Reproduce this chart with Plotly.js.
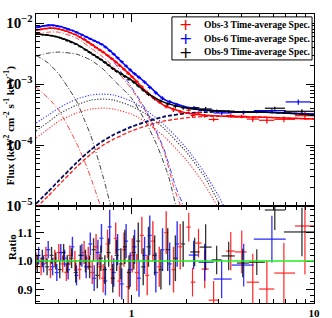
<!DOCTYPE html>
<html><head><meta charset="utf-8">
<script src="https://cdn.plot.ly/plotly-3.0.1.min.js"></script>
<style>html,body{margin:0;padding:0;background:#fff}#chart{width:332px;height:318px}</style>
</head><body><div id="chart"></div>
<script>
// ---------- Obs-3 (red) data ----------
const e3 = [0.30,0.32,0.34,0.36,0.38,0.40,0.42,0.44,0.46,0.49,0.52,0.55,0.58,0.61,0.64,0.67,0.70,0.74,0.78,0.82,0.86,0.91,0.96,1.01,1.07,1.14,1.22,1.31,1.42,1.55,1.70,1.85];
const flux3 = [7.67e-3,7.91e-3,8.15e-3,8.28e-3,8.22e-3,7.98e-3,7.74e-3,7.39e-3,7.01e-3,6.53e-3,5.96e-3,5.38e-3,4.86e-3,4.40e-3,3.98e-3,3.62e-3,3.35e-3,2.95e-3,2.62e-3,2.31e-3,2.03e-3,1.75e-3,1.51e-3,1.31e-3,1.10e-3,9.0e-4,7.26e-4,6.12e-4,5.11e-4,4.26e-4,3.80e-4,3.50e-4];
const ratio3 = [1.00,0.98,1.02,0.97,1.01,1.03,0.99,0.96,1.02,1.00,0.97,1.03,1.01,0.96,1.05,0.98,0.94,1.06,0.97,1.08,0.93,1.04,0.91,1.02,0.96,1.09,0.95,1.07,0.98,1.10,0.97,1.05];
const rerr3 = [0.03,0.03,0.03,0.03,0.03,0.03,0.03,0.03,0.035,0.035,0.035,0.04,0.04,0.04,0.045,0.045,0.05,0.05,0.05,0.055,0.055,0.06,0.06,0.06,0.065,0.065,0.07,0.07,0.07,0.075,0.08,0.08];
const e3s = [2.06,2.16,2.33,2.52,2.82,3.5,4.02,4.62,5.52,6.84,8.92];
const e3sLo = [2.00,2.11,2.24,2.42,2.65,3.30,3.68,4.28,5.00,6.06,7.87];
const e3sHi = [2.11,2.24,2.42,2.65,3.00,3.68,4.28,5.00,6.06,7.87,10.0];
const flux3s = [3.73e-4,3.06e-4,3.40e-4,3.01e-4,2.63e-4,3.04e-4,2.97e-4,2.67e-4,2.55e-4,2.65e-4,3.03e-4];
const ratio3s = [1.119,0.926,1.063,0.972,0.863,1.035,1.032,0.926,0.902,0.958,1.123];
const rerr3s = [0.05,0.05,0.05,0.067,0.067,0.067,0.075,0.1,0.1,0.105,0.17];

// ---------- Obs-6 (blue) data ----------
const e6 = [0.31,0.33,0.35,0.37,0.39,0.41,0.43,0.45,0.475,0.50,0.535,0.565,0.595,0.625,0.655,0.685,0.72,0.76,0.80,0.84,0.885,0.935,0.985,1.04,1.10,1.18,1.26,1.36,1.48,1.62,1.78];
const flux6 = [8.73e-3,9.0e-3,9.27e-3,9.2e-3,9.0e-3,8.8e-3,8.41e-3,8.03e-3,7.59e-3,7.11e-3,6.45e-3,5.96e-3,5.53e-3,5.16e-3,4.83e-3,4.51e-3,4.06e-3,3.54e-3,3.10e-3,2.70e-3,2.33e-3,1.98e-3,1.71e-3,1.48e-3,1.29e-3,1.08e-3,8.83e-4,7.20e-4,5.87e-4,5.11e-4,4.54e-4];
const ratio6 = [1.02,0.99,1.04,0.98,0.96,1.03,1.01,0.97,1.05,0.95,1.02,0.98,1.06,0.94,1.03,1.08,0.93,1.12,0.96,1.04,0.92,1.07,0.97,1.05,0.94,1.02,1.09,0.96,1.04,0.99,1.06];
const rerr6 = [0.03,0.03,0.03,0.03,0.03,0.03,0.03,0.035,0.035,0.035,0.04,0.04,0.04,0.045,0.045,0.05,0.05,0.06,0.05,0.055,0.055,0.06,0.06,0.06,0.065,0.065,0.07,0.07,0.075,0.075,0.08];
const e6s = [2.19,2.52,3.12,4.12,5.88,8.2];
const e6sLo = [2.06,2.33,2.82,3.54,4.68,7.0];
const e6sHi = [2.33,2.82,3.54,4.68,7.0,9.6];
const flux6s = [4.09e-4,3.73e-4,3.36e-4,3.43e-4,3.67e-4,5.1e-4];
const ratio6s = [1.021,0.996,0.937,0.986,1.077,1.5];
const rerr6s = [0.05,0.065,0.067,0.075,0.082,0.15];

// ---------- Obs-9 (black) data ----------
const e9 = [0.305,0.325,0.345,0.365,0.385,0.405,0.425,0.445,0.47,0.495,0.525,0.56,0.59,0.62,0.65,0.68,0.715,0.75,0.79,0.83,0.875,0.92,0.97,1.03,1.09,1.16,1.24,1.34,1.45,1.58,1.74,1.92];
const flux9 = [6.58e-3,6.48e-3,6.38e-3,6.26e-3,6.03e-3,5.78e-3,5.47e-3,5.16e-3,4.83e-3,4.53e-3,4.13e-3,3.66e-3,3.32e-3,3.02e-3,2.77e-3,2.53e-3,2.28e-3,2.04e-3,1.80e-3,1.62e-3,1.47e-3,1.34e-3,1.21e-3,1.08e-3,9.38e-4,8.04e-4,6.81e-4,5.77e-4,5.19e-4,4.72e-4,4.34e-4,4.10e-4];
const ratio9 = [0.99,1.01,0.98,1.02,1.00,0.97,1.03,0.99,1.01,0.96,1.02,1.00,0.98,1.04,0.95,1.01,0.97,1.03,0.94,1.02,0.99,1.05,0.96,1.03,1.07,0.98,1.05,1.02,0.97,1.04,1.01,1.06];
const rerr9 = [0.03,0.03,0.03,0.03,0.03,0.03,0.03,0.03,0.035,0.035,0.035,0.04,0.04,0.04,0.045,0.045,0.05,0.05,0.05,0.055,0.055,0.06,0.06,0.06,0.065,0.065,0.07,0.07,0.07,0.075,0.08,0.08];
const e9s = [2.22,2.55,2.93,3.41,4.07,4.86,6.1,8.59];
const e9sLo = [2.10,2.36,2.75,3.12,3.78,4.40,5.38,6.84];
const e9sHi = [2.36,2.75,3.12,3.68,4.40,5.38,6.93,10.0];
const flux9s = [4.08e-4,3.91e-4,3.65e-4,3.60e-4,3.46e-4,3.47e-4,4.02e-4,3.58e-4];
const ratio9s = [1.032,1.049,1.004,1.018,0.993,0.996,1.179,1.102];
const rerr9s = [0.05,0.08,0.05,0.05,0.05,0.045,0.07,0.085];

// ---------- Model curves ----------
const eGrid = [0.3,0.35,0.4,0.5,0.6,0.7,0.8,1.0,1.2,1.5,2,2.5,3,4,5,7,10];
const tot3 = [7.67e-3,8.28e-3,7.98e-3,6.35e-3,4.53e-3,3.35e-3,2.47e-3,1.35e-3,7.67e-4,4.53e-4,3.35e-4,3.10e-4,2.99e-4,2.88e-4,2.88e-4,2.77e-4,2.67e-4];
const tot6 = [8.59e-3,9.27e-3,8.93e-3,7.11e-3,5.47e-3,4.35e-3,3.10e-3,1.63e-3,1.04e-3,5.68e-4,4.20e-4,3.75e-4,3.61e-4,3.48e-4,3.48e-4,3.35e-4,3.22e-4];
const tot9 = [6.61e-3,6.35e-3,5.89e-3,4.53e-3,3.22e-3,2.38e-3,1.76e-3,1.16e-3,7.40e-4,5.07e-4,4.05e-4,3.75e-4,3.61e-4,3.48e-4,3.48e-4,3.35e-4,3.10e-4];
const pl3 = [9.3e-6,1.46e-5,2.21e-5,4.35e-5,7.11e-5,1.0e-4,1.25e-4,1.70e-4,2.05e-4,2.47e-4,2.80e-4,2.95e-4,2.97e-4,2.88e-4,2.88e-4,2.77e-4,2.67e-4];
const pl6 = [1.1e-5,1.75e-5,2.65e-5,5.2e-5,8.5e-5,1.19e-4,1.5e-4,2.02e-4,2.44e-4,2.95e-4,3.36e-4,3.48e-4,3.54e-4,3.50e-4,3.47e-4,3.36e-4,3.22e-4];
const pl9 = [1.08e-5,1.70e-5,2.57e-5,5.07e-5,8.28e-5,1.16e-4,1.46e-4,1.97e-4,2.38e-4,2.88e-4,3.30e-4,3.44e-4,3.50e-4,3.48e-4,3.46e-4,3.34e-4,3.10e-4];

const eHot3 = [0.3,0.35,0.4,0.5,0.6,0.7,0.8,1.0,1.2,1.5,1.7,1.86];
const hot3 = [6.6e-3,7.1e-3,7.1e-3,5.68e-3,3.89e-3,2.77e-3,1.90e-3,8.28e-4,3.48e-4,8.28e-5,2.13e-5,1.0e-5];
const eHot6 = [0.3,0.35,0.4,0.5,0.6,0.7,0.8,1.0,1.2,1.5,1.75,1.93];
const hot6 = [8.28e-3,8.93e-3,8.59e-3,6.86e-3,4.70e-3,3.35e-3,2.30e-3,8.93e-4,3.75e-4,8.93e-5,2.05e-5,1.0e-5];
const eHot9 = [0.3,0.35,0.4,0.5,0.6,0.7,0.8,1.0,1.2,1.4,1.6,1.75];
const hot9 = [2.88e-3,3.22e-3,3.35e-3,3.10e-3,2.47e-3,1.76e-3,1.16e-3,5.89e-4,2.38e-4,8.93e-5,3.0e-5,1.0e-5];
const eCool3 = [0.3,0.35,0.4,0.5,0.55,0.6,0.676];
const cool3 = [8.93e-4,5.89e-4,3.75e-4,1.08e-4,5.67e-5,2.88e-5,1.0e-5];
const eCool9 = [0.3,0.35,0.4,0.5,0.55,0.6,0.7,0.77];
const cool9 = [2.98e-3,2.21e-3,1.46e-3,5.26e-4,2.67e-4,1.41e-4,2.99e-5,1.0e-5];

const eDisk3 = [0.3,0.35,0.4,0.5,0.6,0.7,0.8,1.0,1.2,1.5,2.0,2.5,2.95];
const disk3 = [1.30e-4,1.83e-4,2.47e-4,3.35e-4,3.89e-4,4.05e-4,3.89e-4,3.22e-4,2.38e-4,1.41e-4,5.67e-5,2.30e-5,1.0e-5];
const eDisk6 = [0.3,0.35,0.4,0.5,0.6,0.7,0.8,1.0,1.2,1.5,2.0,2.5,3.0,3.2];
const disk6 = [2.30e-4,3.10e-4,4.05e-4,5.68e-4,6.61e-4,6.86e-4,6.61e-4,5.26e-4,3.75e-4,2.21e-4,8.93e-5,3.61e-5,1.46e-5,1.0e-5];
const eDisk9 = [0.3,0.35,0.4,0.5,0.6,0.7,0.8,1.0,1.2,1.5,2.0,2.5,3.0,3.08];
const disk9 = [1.70e-4,2.38e-4,3.22e-4,4.53e-4,5.47e-4,5.68e-4,5.47e-4,4.35e-4,3.22e-4,1.90e-4,7.67e-5,3.10e-5,1.16e-5,1.0e-5];

const legendLabels = ['Obs-3 Time-average Spec.','Obs-6 Time-average Spec.','Obs-9 Time-average Spec.'];
const RED='#ff0000', BLUE='#0000ff', BLACK='#000000';
const SERIF='"Liberation Serif", "Times New Roman", serif';

const traces = [];
function line(x, y, color, dash, width, op) {
  traces.push({x:x, y:y, xaxis:'x2', yaxis:'y2', mode:'lines', type:'scatter', opacity:op||1,
    line:{color:color, dash:dash, width:width, shape:'spline', smoothing:0.6}, hoverinfo:'skip'});
}
// components
[[eCool3,cool3,RED],[eCool9,cool9,BLACK],[eHot3,hot3,RED],[eHot6,hot6,BLUE],[eHot9,hot9,BLACK]].forEach(c=>line(c[0],c[1],c[2],'5px,2px,1px,2px',1,0.75));
[[eDisk3,disk3,RED],[eDisk6,disk6,BLUE],[eDisk9,disk9,BLACK]].forEach(c=>line(c[0],c[1],c[2],'1.2px,1.6px',1.1,0.8));
[[pl3,RED],[pl6,BLUE],[pl9,BLACK]].forEach(c=>line(eGrid,c[0],c[1],'4px,2px',1.3,0.9));

function dataTraces(e, flux, ratio, rerr, es, esLo, esHi, fluxs, ratios, rerrs, color) {
  const fe = flux.map((f,i)=>f*rerr[i]/ratio[i]);
  const fes = fluxs.map((f,i)=>f*rerrs[i]/ratios[i]);
  const xp = es.map((v,i)=>esHi[i]-v), xm = es.map((v,i)=>v-esLo[i]);
  const common = {type:'scatter', mode:'markers', marker:{size:1, color:color}, hoverinfo:'skip'};
  traces.push(Object.assign({}, common, {x:e, y:flux, xaxis:'x2', yaxis:'y2',
    error_y:{type:'data', array:fe, color:color, thickness:1.2, width:0},
    error_x:{type:'percent', value:2.5, color:color, thickness:1.2, width:0}}));
  traces.push(Object.assign({}, common, {x:es, y:fluxs, xaxis:'x2', yaxis:'y2',
    error_y:{type:'data', array:fes, color:color, thickness:1.2, width:0},
    error_x:{type:'data', array:xp, arrayminus:xm, symmetric:false, color:color, thickness:1.2, width:0}}));
  traces.push(Object.assign({}, common, {x:e, y:ratio, xaxis:'x', yaxis:'y', opacity:0.8,
    error_y:{type:'data', array:rerr, color:color, thickness:1.4, width:0},
    error_x:{type:'percent', value:2.5, color:color, thickness:1.2, width:0}}));
  traces.push(Object.assign({}, common, {x:es, y:ratios, xaxis:'x', yaxis:'y', opacity:0.85,
    error_y:{type:'data', array:rerrs, color:color, thickness:1.2, width:0},
    error_x:{type:'data', array:xp, arrayminus:xm, symmetric:false, color:color, thickness:1.2, width:0}}));
}
dataTraces(e3, flux3, ratio3, rerr3, e3s, e3sLo, e3sHi, flux3s, ratio3s, rerr3s, RED);
dataTraces(e6, flux6, ratio6, rerr6, e6s, e6sLo, e6sHi, flux6s, ratio6s, rerr6s, BLUE);
dataTraces(e9, flux9, ratio9, rerr9, e9s, e9sLo, e9sHi, flux9s, ratio9s, rerr9s, BLACK);

// total models on top
[[tot3,RED],[tot6,BLUE],[tot9,BLACK]].forEach(c=>line(eGrid,c[0],c[1],'solid',1.5));

const tickFont = {family:SERIF, size:12, color:'#000', weight:'bold'};
const axBase = {ticks:'inside', ticklen:8, tickwidth:1, tickcolor:'#000', showline:true, linecolor:'#000', linewidth:1,
  mirror:'allticks', showgrid:false, zeroline:false, tickfont:tickFont};
const topDomain = [0.3356, 1];
const layout = {
  width:332, height:318, margin:{l:36, r:18, t:14, b:15},
  paper_bgcolor:'#fff', plot_bgcolor:'#fff', showlegend:false,
  font:{family:SERIF, color:'#000'},
  xaxis: Object.assign({}, axBase, {type:'log', range:[Math.log10(0.3), 1], anchor:'y', dtick:1,
    tickfont:{family:SERIF, size:11, color:'#000', weight:'bold'},
    minor:{ticks:'inside', ticklen:4, dtick:'D1', tickcolor:'#000', showgrid:false}}),
  xaxis2: Object.assign({}, axBase, {type:'log', range:[Math.log10(0.3), 1], anchor:'y2', matches:'x', dtick:1, showticklabels:false,
    minor:{ticks:'inside', ticklen:4, dtick:'D1', tickcolor:'#000', showgrid:false}}),
  yaxis: Object.assign({}, axBase, {domain:[0, topDomain[0]], range:[0.853, 1.193], anchor:'x', dtick:0.1, tick0:0, tickformat:'.1f',
    minor:{ticks:'inside', ticklen:4, dtick:0.02, tickcolor:'#000', showgrid:false}}),
  yaxis2: Object.assign({}, axBase, {domain:topDomain, type:'log', range:[-5, -1.85], anchor:'x2', dtick:1, exponentformat:'power',
    minor:{ticks:'inside', ticklen:4, dtick:'D1', tickcolor:'#000', showgrid:false}}),
  shapes:[
    {type:'line', xref:'paper', x0:0, x1:1, yref:'y', y0:1, y1:1, line:{color:'#22ee22', width:1.4}, layer:'above'},
    {type:'rect', xref:'paper', yref:'paper', x0:0.489, x1:0.993, y0:0.841, y1:0.990, fillcolor:'#fff', line:{color:'#000', width:1}, layer:'above'}
  ],
  annotations:[
    {text:'Flux (keV<sup>2</sup> cm<sup>-2</sup> s<sup>-1</sup> keV<sup>-1</sup>)', xref:'paper', yref:'paper', x:-0.093, y:0.6125,
     textangle:-90, showarrow:false, xanchor:'center', yanchor:'middle', font:{family:SERIF, size:11, weight:'bold', color:'#000'}},
    {text:'Ratio', xref:'paper', yref:'paper', x:-0.0863, y:0.194, textangle:-90, showarrow:false,
     xanchor:'center', yanchor:'middle', font:{family:SERIF, size:11, weight:'bold', color:'#000'}},
    {text:'Energy (keV)', xref:'paper', yref:'paper', x:0.493, y:-0.038, showarrow:false, xanchor:'center', yanchor:'top',
     font:{family:SERIF, size:12, weight:'bold', color:'#000'}}
  ]
};
const legColors = [RED, BLUE, BLACK];
const legY = [0.962, 0.9135, 0.8685];
legendLabels.forEach((t,i)=>{
  layout.annotations.push({text:'+', xref:'paper', yref:'paper', x:0.536, y:legY[i], showarrow:false, xanchor:'center', yanchor:'middle',
    font:{family:'DejaVu Sans', size:16, color:legColors[i]}});
  layout.annotations.push({text:t, xref:'paper', yref:'paper', x:0.597, y:legY[i], showarrow:false, xanchor:'left', yanchor:'middle',
    font:{family:SERIF, size:9.5, weight:'bold', color:'#000'}});
});
Plotly.newPlot('chart', traces, layout, {staticPlot:true, displayModeBar:false});
</script></body></html>
